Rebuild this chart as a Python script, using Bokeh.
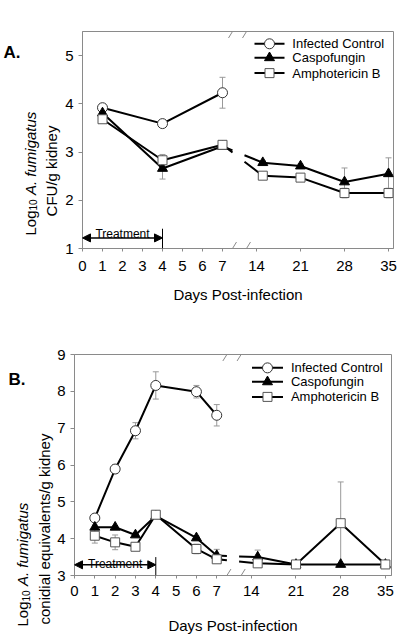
import math
from bokeh.plotting import figure
from bokeh.models import (ColumnDataSource, Whisker, TeeHead, Arrow, NormalHead, Label,
                          FixedTicker, CustomJSTickFormatter, Range1d)
from bokeh.layouts import column, row
from bokeh.embed import file_html
from bokeh.resources import INLINE
from bokeh.core.properties import value

# ---------------- data ----------------
tick_days = [0, 1, 2, 3, 4, 5, 6, 7, 14, 21, 28, 35]
tick_labels = [str(d) for d in tick_days]
series_names = ["Infected Control", "Caspofungin", "Amphotericin B"]
treatment_days = [0, 4]

# Panel A: Log10 CFU/g kidney
a_days_ic = [1, 4, 7]
a_ic = [3.92, 3.59, 4.23]
a_ic_err = [0.03, 0.03, 0.32]
a_days_tx = [1, 4, 7, 15, 21, 28, 35]
a_caspo = [3.81, 2.66, 3.12, 2.78, 2.71, 2.38, 2.55]
a_caspo_err = [0.05, 0.22, 0.05, 0.04, 0.04, 0.29, 0.33]
a_ampho = [3.68, 2.83, 3.15, 2.51, 2.47, 2.15, 2.15]
a_ampho_err = [0.04, 0.12, 0.06, 0.03, 0.03, 0.10, 0.10]
a_yticks = [1, 2, 3, 4, 5]

# Panel B: Log10 conidial equivalents/g kidney
b_days_ic = [1, 2, 3, 4, 6, 7]
b_ic = [4.56, 5.89, 6.93, 8.16, 7.99, 7.35]
b_ic_err = [0.05, 0.12, 0.22, 0.37, 0.17, 0.29]
b_days_tx = [1, 2, 3, 4, 6, 7, 15, 21, 28, 35]
b_caspo = [4.31, 4.31, 4.10, 4.62, 4.02, 3.54, 3.50, 3.30, 3.30, 3.30]
b_caspo_err = [0.06, 0.04, 0.05, 0.05, 0.05, 0.17, 0.19, 0.02, 0.02, 0.02]
b_ampho = [4.08, 3.90, 3.78, 4.65, 3.72, 3.44, 3.33, 3.30, 4.42, 3.30]
b_ampho_err = [0.20, 0.20, 0.10, 0.05, 0.13, 0.05, 0.08, 0.02, 1.12, 0.02]
b_yticks = [3, 4, 5, 6, 7, 8, 9]

# ---------------- broken axis mapping ----------------
BREAK_AT = 14
POST_START = 8.7
POST_SCALE = 2.2 / 7.0
GAP_L, GAP_R = 7.5, 8.1
SLASHES = [7.5, 8.2]


def xpos(d):
    return float(d) if d <= 7 else POST_START + (d - BREAK_AT) * POST_SCALE


def gapped(days, vals):
    xs, ys = [], []
    prev = None
    for d, v in zip(days, vals):
        x = xpos(d)
        if prev is not None and prev[0] < GAP_L and x > GAP_R:
            x0, y0 = prev
            yl = y0 + (v - y0) * (GAP_L - x0) / (x - x0)
            yr = y0 + (v - y0) * (GAP_R - x0) / (x - x0)
            xs += [GAP_L, float("nan"), GAP_R]
            ys += [yl, float("nan"), yr]
        xs.append(x)
        ys.append(v)
        prev = (x, v)
    return xs, ys


FONT = "Liberation Sans"
GRAY = "#8a8a8a"
STYLES = [
    dict(marker="circle", size=10, fill_color="white", line_color="#333333"),
    dict(marker="triangle", size=10, fill_color="black", line_color="black"),
    dict(marker="square", size=9, fill_color="white", line_color="#555555"),
]

tick_pos = [xpos(d) for d in tick_days]
fmt = CustomJSTickFormatter(args=dict(pos=tick_pos, lab=tick_labels), code="""
let best = 0;
for (let i = 0; i < pos.length; i++) {
  if (Math.abs(pos[i] - tick) < Math.abs(pos[best] - tick)) best = i;
}
return lab[best];
""")


def make_fig(ymin, ymax, xmax, fw, fh, ml, mt, mb, mr, yticks, xstand, xlabstand):
    p = figure(frame_width=fw, frame_height=fh,
               x_range=Range1d(0, xmax), y_range=Range1d(ymin, ymax),
               output_backend="svg", toolbar_location=None,
               min_border_left=ml, min_border_top=mt, min_border_bottom=mb,
               min_border_right=mr)
    p.grid.visible = False
    p.outline_line_color = GRAY
    p.background_fill_color = "white"
    p.border_fill_color = "white"
    for ax in (p.xaxis[0], p.yaxis[0]):
        ax.axis_line_color = GRAY
        ax.major_tick_line_color = GRAY
        ax.minor_tick_line_color = None
        ax.major_tick_in = 0
        ax.major_label_text_font = FONT
        ax.major_label_text_font_size = "15px"
        ax.major_label_text_color = "black"
        ax.axis_label_text_font = FONT
        ax.axis_label_text_font_size = "15px"
        ax.axis_label_text_font_style = "normal"
        ax.axis_label_text_color = "black"
    p.xaxis.ticker = FixedTicker(ticks=tick_pos)
    p.xaxis.formatter = fmt
    p.xaxis.major_tick_out = 3
    p.xaxis.major_label_standoff = xstand
    p.xaxis.axis_label = "Days Post-infection"
    p.xaxis.axis_label_standoff = xlabstand
    p.yaxis.ticker = FixedTicker(ticks=yticks)
    p.yaxis.major_tick_out = 4
    p.yaxis.major_label_standoff = 5
    return p


def title_fig(w, h):
    t = figure(frame_width=w, frame_height=h, x_range=Range1d(0, w), y_range=Range1d(0, h),
               output_backend="svg", toolbar_location=None,
               x_axis_location=None, y_axis_location=None,
               min_border=0, min_border_left=0, min_border_right=0,
               min_border_top=0, min_border_bottom=0)
    t.grid.visible = False
    t.outline_line_color = None
    t.background_fill_color = "white"
    t.border_fill_color = "white"
    return t


def draw_series(p, days_list, vals_list, errs_list):
    for days, vals, errs, st in zip(days_list, vals_list, errs_list, STYLES):
        xs = [xpos(d) for d in days]
        src = ColumnDataSource(dict(x=xs, y=vals,
                                    lo=[v - e for v, e in zip(vals, errs)],
                                    hi=[v + e for v, e in zip(vals, errs)]))
        p.add_layout(Whisker(source=src, base="x", upper="hi", lower="lo",
                             line_color="#999999", line_width=1,
                             upper_head=TeeHead(size=6, line_color="#999999", line_width=1),
                             lower_head=TeeHead(size=6, line_color="#999999", line_width=1)))
        lx, ly = gapped(days, vals)
        p.line(lx, ly, line_color="black", line_width=2)
    for days, vals, st in zip(days_list, vals_list, STYLES):
        xs = [xpos(d) for d in days]
        p.scatter(xs, vals, line_width=1, **st)


def draw_legend(p, x0, x1, xt, ys):
    for name, y, st in zip(series_names, ys, STYLES):
        p.line([x0, x1], [y, y], line_color="black", line_width=2)
        p.scatter([(x0 + x1) / 2], [y], line_width=1, **st)
        p.text([xt], [y], text=[name], text_baseline="middle", text_align="left",
               text_font=value(FONT), text_font_size="13px", text_color="black")


def draw_breaks(p, ymin, ymax, half_h):
    for y in (ymin, ymax):
        for c in SLASHES:
            p.add_layout(Arrow(x_start=c - 0.2, y_start=y - half_h, x_end=c + 0.2,
                               y_end=y + half_h, start=None, end=None,
                               line_color=GRAY, line_width=1))


def draw_treatment(p, y_arrow, y_text, y_top, ymin):
    t0, t1 = treatment_days
    p.add_layout(Arrow(x_start=t0, y_start=y_arrow, x_end=t1, y_end=y_arrow,
                       line_color="black", line_width=1.5,
                       start=NormalHead(size=8, fill_color="black", line_color="black"),
                       end=NormalHead(size=8, fill_color="black", line_color="black")))
    p.add_layout(Arrow(x_start=t1, y_start=ymin, x_end=t1, y_end=y_top,
                       start=None, end=None, line_color="black", line_width=1))
    p.add_layout(Label(x=(t0 + t1) / 2, y=y_text, text="Treatment", text_align="center",
                       text_baseline="alphabetic", text_font=FONT, text_font_size="12px",
                       text_color="black"))


def ytitle(t, x1, y_log, x2, y2, line2, align2):
    # "Log" + subscript "10" + italic "A. fumigatus", rotated, then second line
    common = dict(angle=math.pi / 2, text_baseline="alphabetic", text_font=value(FONT),
                  text_color="black")
    t.text([x1], [y_log], text=["Log"], text_align="left", text_font_size="15px", **common)
    t.text([x1 + 3], [y_log + 25], text=["10"], text_align="left",
           text_font_size="10px", **common)
    t.text([x1], [y_log + 40.5], text=["A. fumigatus"], text_align="left",
           text_font_size="15px", text_font_style="italic", **common)
    t.text([x2], [y2], text=[line2], text_align=align2, text_font_size="15px", **common)


def panel_letter(t, x, y, s):
    t.text([x], [y], text=[s], text_align="left", text_baseline="alphabetic",
           text_font=value(FONT), text_font_size="17px", text_font_style="bold",
           text_color="black")


# ---------------- panel A ----------------
ta = title_fig(62, 305)
ytitle(ta, 29.5, 101, 50.5, 165.5, "CFU/g kidney", "center")
panel_letter(ta, 3, 284, "A.")

pa = make_fig(1, 5.5, 15.55, 311, 217, 19, 31, 57, 8, a_yticks, 9, 12)
draw_series(pa, [a_days_ic, a_days_tx, a_days_tx], [a_ic, a_caspo, a_ampho],
            [a_ic_err, a_caspo_err, a_ampho_err])
draw_legend(pa, 8.6, 10.1, 10.49, [5.245, 4.955, 4.637])
draw_breaks(pa, 1, 5.5, 0.135)
draw_treatment(pa, 1.22, 1.31, 1.41, 1)

# ---------------- panel B ----------------
tb = title_fig(54, 337)
ytitle(tb, 22, 65, 44, 67, "conidial equivalents/g kidney", "left")
panel_letter(tb, 8, 312, "B.")

pb = make_fig(3, 9, 15.6, 317, 221, 20, 49, 67, 9, b_yticks, 7, 18)
draw_series(pb, [b_days_ic, b_days_tx, b_days_tx], [b_ic, b_caspo, b_ampho],
            [b_ic_err, b_caspo_err, b_ampho_err])
draw_legend(pb, 8.735, 10.26, 10.65, [8.637, 8.257, 7.849])
draw_breaks(pb, 3, 9, 0.176)
draw_treatment(pb, 3.29, 3.31, 3.5, 3)

layout = column(row(ta, pa, spacing=0), row(tb, pb, spacing=0), spacing=0)
open("out.html", "w").write(file_html(layout, INLINE))
